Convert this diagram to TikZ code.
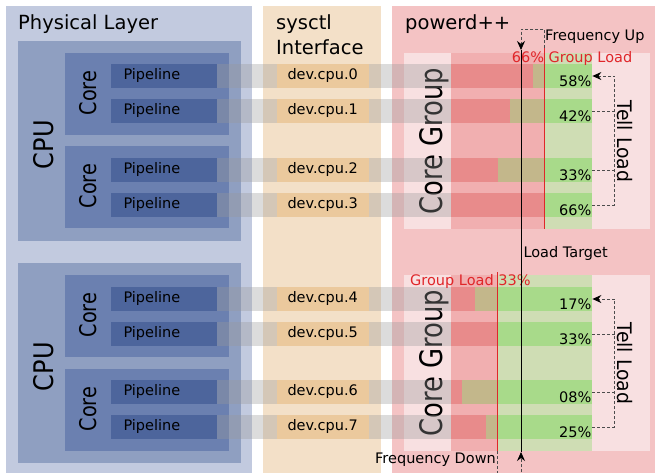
\documentclass[tikz,border=0pt]{standalone}
\usepackage{fontspec}
\setmainfont{DejaVu Sans}
\usetikzlibrary{arrows.meta}
\definecolor{physbg}{HTML}{C2CADF}
\definecolor{cpubg}{HTML}{8F9FC1}
\definecolor{corebg}{HTML}{6B80B0}
\definecolor{pipebg}{HTML}{4D659C}
\definecolor{sysbg}{HTML}{F3E0C8}
\definecolor{devbg}{HTML}{EBC99D}
\definecolor{powbg}{HTML}{F4C3C4}
\definecolor{lpink}{HTML}{F8E0E1}
\definecolor{barpink}{HTML}{F1AFB0}
\definecolor{lgreen}{HTML}{CFDDB4}
\definecolor{tanc}{HTML}{C3B78B}
\definecolor{greenc}{HTML}{A8DA8A}
\definecolor{redbar}{HTML}{E88B8B}
\definecolor{redl}{HTML}{E0262A}
\begin{document}
\begin{tikzpicture}[x=1pt,y=-1pt,
  txs/.style={inner sep=0pt, font=\fontsize{14.5}{17}\selectfont},
  txl/.style={inner sep=0pt, font=\fontsize{19.5}{24}\selectfont},
  dsh/.style={draw=black!70, dash pattern=on 3pt off 2pt, line width=0.8pt},
  tip/.style={-{Stealth[length=9pt,width=8pt,inset=3pt,color=black]}},
  band/.style={fill=black!40, fill opacity=0.34}]
\useasboundingbox (0,0) rectangle (655,472);
% columns
\fill[physbg] (6,6) rectangle (252,490);
\fill[sysbg] (263,6) rectangle (381,490);
\fill[powbg] (392,6) rectangle (670,490);
\node[txl, anchor=base west] (tphys) at (18,29.3) {Physical Layer};
\node[txl, anchor=base west] (tsys1) at (276,29.3) {sysctl};
\node[txl, anchor=base west] (tsys2) at (276,54) {Interface};
\node[txl, anchor=base west] (tpow) at (405,29.3) {powerd++};
% CPUs
\foreach \cy/\n in {41/1,263/2}{
  \fill[cpubg] (18,\cy) rectangle (241,\cy+200);
  \node[inner sep=0pt, font=\fontsize{27}{30}\selectfont, rotate=90, anchor=base] (cpu\n) at (53.3,\cy+103.7) {\scalebox{0.89}[1]{CPU}};
}
% Cores
\foreach \cy/\n in {53/1,146/2,275/3,369/4}{
  \fill[corebg] (65,\cy) rectangle (229,\cy+82);
  \node[inner sep=0pt, font=\fontsize{23}{26}\selectfont, rotate=90, anchor=base] (core\n) at (96.7,\cy+40) {\scalebox{0.84}[1]{Core}};
}
% Core groups
\foreach \g/\gl/\n in {53/66/1,275/33/2}{
  \pgfmathsetmacro\xl{451+\gl*1.414}
  \fill[lpink] (404,\g) rectangle (650,\g+176);
  \fill[barpink] (451,\g) rectangle (\xl,\g+176);
  \fill[lgreen] (\xl,\g) rectangle (592.4,\g+176);
  \node[inner sep=0pt, font=\fontsize{31}{34}\selectfont, rotate=90, anchor=base] (cg\n) at (442.5,\g+88) {\scalebox{0.834}[1]{Core Group}};
  \node[inner sep=0pt, font=\fontsize{20}{24}\selectfont, rotate=-90, anchor=base] (tl\n) at (617.5,\g+88.5) {\scalebox{0.94}[1]{Tell Load}};
}
% rows
\foreach \i/\ya/\p/\pt/\gl in {0/64/58/58/66, 1/99/42/42/66, 2/158/33/33/66, 3/193/66/66/66, 4/287/17/17/33, 5/322/33/33/33, 6/380/8/08/33, 7/415/25/25/33}{
  \pgfmathsetmacro\yb{\ya+24}
  \pgfmathsetmacro\xl{451+\gl*1.414}
  \pgfmathsetmacro\xp{451+\p*1.414}
  \fill[tanc] (451,\ya) rectangle (\xl,\yb);
  \fill[greenc] (\xl,\ya) rectangle (592.4,\yb);
  \fill[redbar] (451,\ya) rectangle (\xp,\yb);
  \node[txs, anchor=base east] (pc\i) at (591.5,\yb-2) {\pt\%};
  \fill[pipebg] (111,\ya) rectangle (217,\yb);
  \node[txs, anchor=base west] (pl\i) at (123.3,\ya+15.3) {Pipeline};
  \fill[band] (217,\ya) rectangle (451,\yb);
  \fill[devbg] (276.5,\ya) rectangle (369,\yb);
  \node[txs, anchor=base west] (dv\i) at (287.3,\ya+15.3) {dev.cpu.\i};
  \coordinate (ta\i) at (592.4,\ya+12);
  \coordinate (tx\i) at (614.5,\ya+12);
}
% tell load connectors
\draw[dsh, tip] (ta3) -- (tx3) -- (tx0) -- (ta0);
\draw[dsh] (ta1) -- (tx1);
\draw[dsh] (ta2) -- (tx2);
\draw[dsh, tip] (ta7) -- (tx7) -- (tx4) -- (ta4);
\draw[dsh] (ta5) -- (tx5);
\draw[dsh] (ta6) -- (tx6);
% group load lines
\coordinate (r1t) at (544.3,48);
\coordinate (r1b) at (544.3,229);
\coordinate (r2t) at (497.7,272);
\coordinate (r2b) at (497.7,451);
\draw[redl, line width=0.9pt] (r1t) -- (r1b);
\draw[redl, line width=0.9pt] (r2t) -- (r2b);
\node[txs, anchor=base west, text=redl] (gl1) at (511.7,62.7) {66\% Group Load};
\node[txs, anchor=base west, text=redl] (gl2) at (410,285) {Group Load 33\%};
% load target
\coordinate (lt1) at (521,50);
\coordinate (lt2) at (521,452);
\coordinate (fu1) at (544.3,29);
\coordinate (fu2) at (521,29);
\coordinate (fd1) at (497.7,490);
\coordinate (fd2) at (521,490);
\draw[black, line width=0.9pt] (lt1) -- (lt2);
\draw[dsh, tip] (r1t) -- (fu1) -- (fu2) -- (lt1);
\draw[dsh, tip] (r2b) -- (fd1) -- (fd2) -- (lt2);
\node[txs, anchor=base west] (fup) at (545,40) {Frequency Up};
\node[txs, anchor=base west] (ltg) at (523.3,257.3) {Load Target};
\node[txs, anchor=base east] (fdn) at (496,463) {Frequency Down};
\end{tikzpicture}
\end{document}
